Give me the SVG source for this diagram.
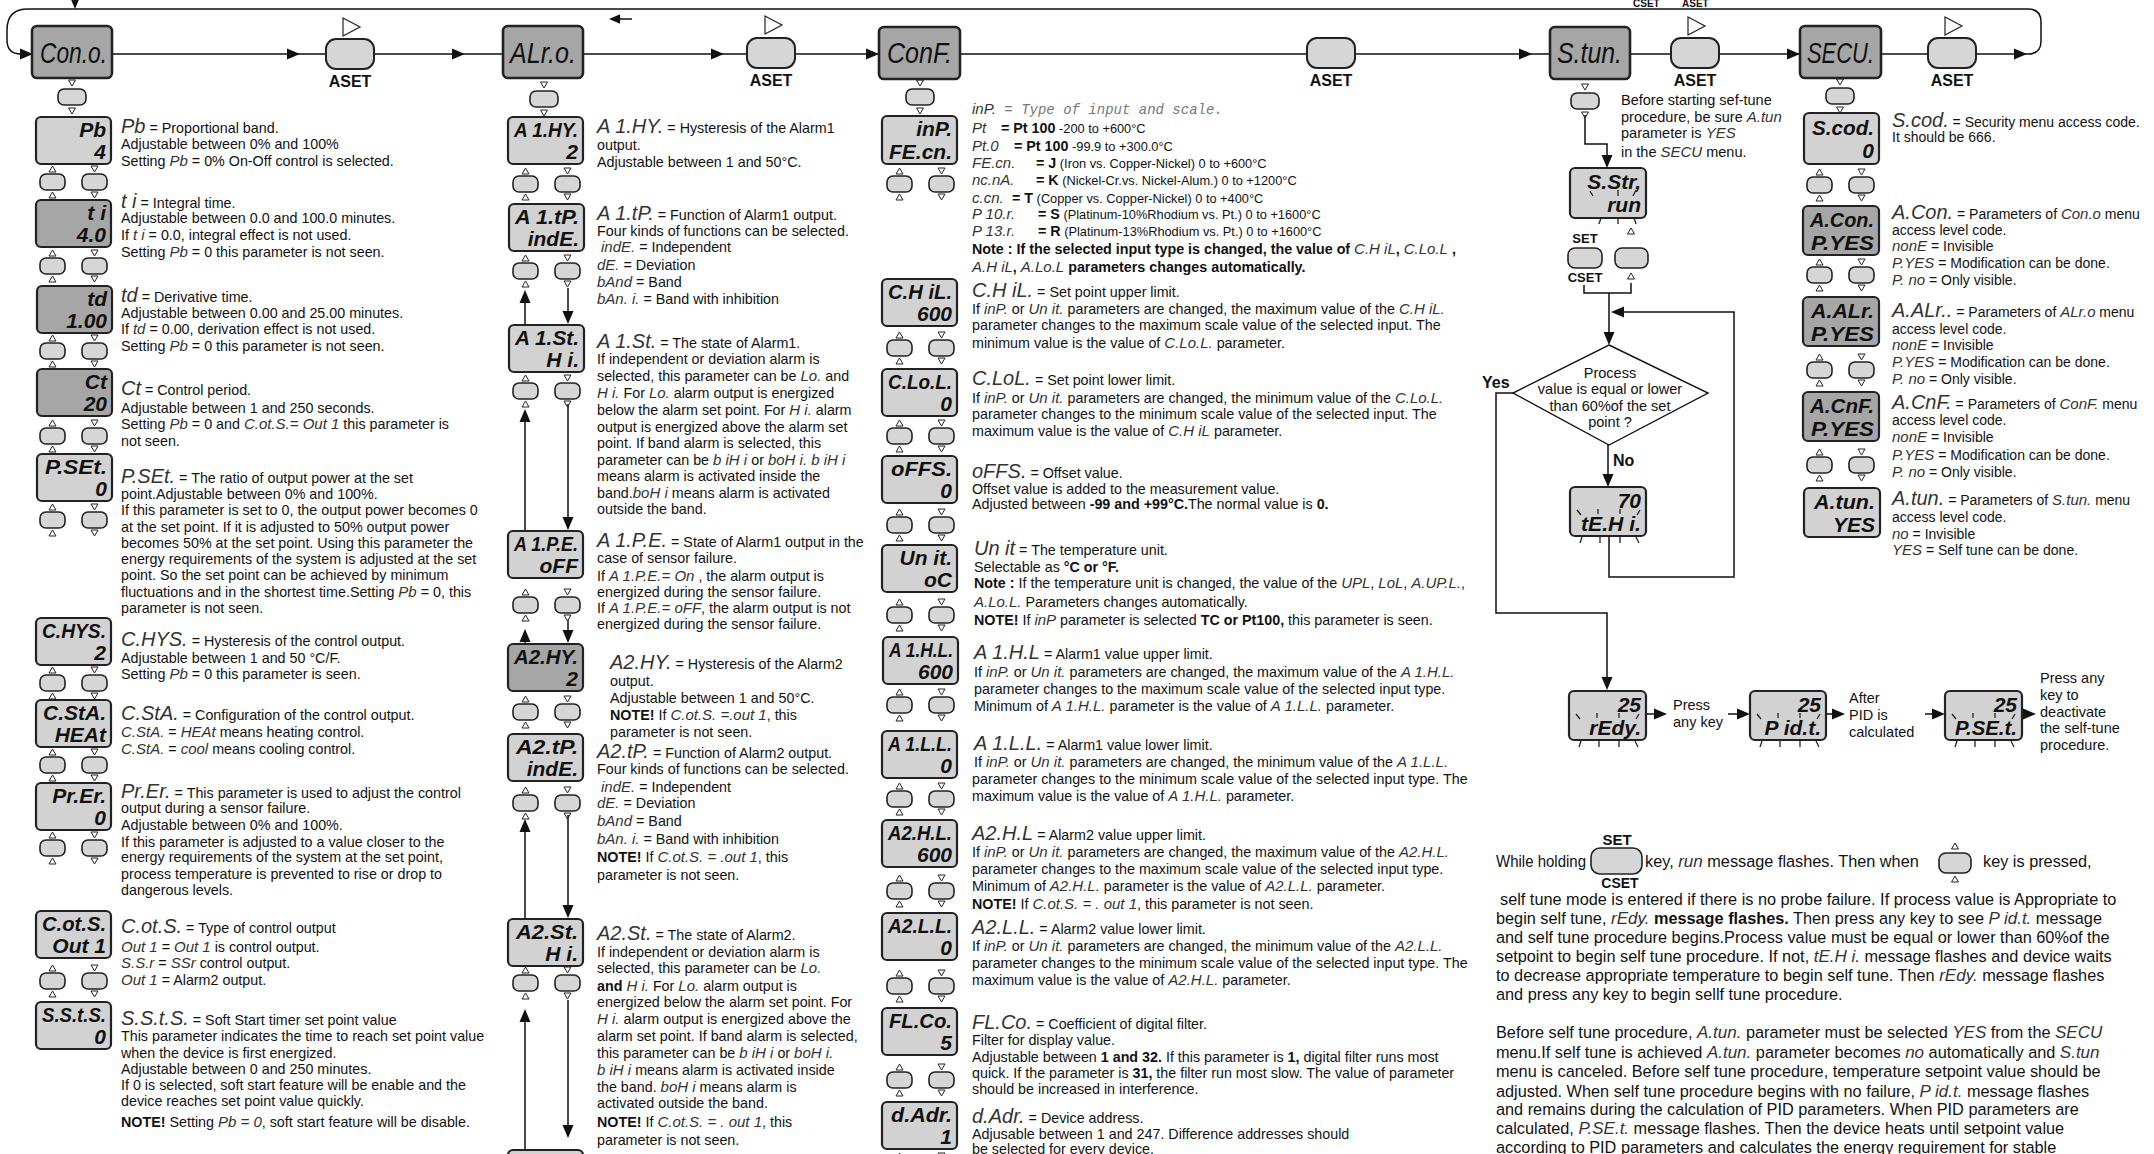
<svg xmlns="http://www.w3.org/2000/svg" width="2154" height="1154" viewBox="0 0 2154 1154">
<defs>
<style>
text{font-family:"Liberation Sans",Arial,sans-serif;fill:#111}
.t{font-size:14.3px}
.q{font-size:14.5px}
.r{font-size:14px}
.p{font-size:16.3px}
.b{font-weight:bold}
.c{font-size:12.8px}
.s{font-style:italic;fill:#333;font-size:15px;font-weight:normal}
.s2{font-style:italic;fill:#333;font-size:17px;font-weight:normal}
.L{font-style:italic;fill:#333;font-size:20px;font-weight:normal}
.d{font-style:italic;font-weight:bold;font-size:21px;text-anchor:end;fill:#111}
.m{font-style:italic;font-size:29px;fill:#111}
.aset{font-weight:bold;font-size:16px;text-anchor:middle}
.mono{font-family:"Liberation Mono",monospace;font-size:14px;fill:#777;font-style:italic}
.bl{fill:#d2d2d2;stroke:#222;stroke-width:2.2}
.bd{fill:#a6a6a6;stroke:#222;stroke-width:2.2}
.mb{fill:#a6a6a6;stroke:#222;stroke-width:2.6}
.k{fill:#d6d6d6;stroke:#222;stroke-width:1.6}
.ln{fill:none;stroke:#111;stroke-width:1.5}
.tr{fill:none;stroke:#222;stroke-width:1}
.ah{fill:#111}
.fl{stroke:#222;stroke-width:1.3}
.mid{text-anchor:middle}
</style>
<path id="ar" class="ah" d="M0,0 L-13,-5.5 L-13,5.5 Z"/>
<path id="tu" class="tr" d="M-3.5,3 L3.5,3 L0,-3 Z"/>
<path id="tdn" class="tr" d="M-3.5,-3 L3.5,-3 L0,3 Z"/>
<g id="bp">
<rect class="k" x="0" y="0" width="25" height="16" rx="6"/>
<use href="#tu" x="12.5" y="-5"/>
<use href="#tu" x="12.5" y="21"/>
<rect class="k" x="42" y="0" width="25" height="16" rx="6"/>
<use href="#tdn" x="54.5" y="-5"/>
<use href="#tdn" x="54.5" y="21"/>
</g>
<g id="sb">
<use href="#tdn" x="0" y="-6"/>
<rect class="k" x="-14" y="0" width="28" height="16" rx="6"/>
<use href="#tdn" x="0" y="22"/>
</g>
<g id="aset">
<rect class="k" x="-24" y="-15" width="48" height="30" rx="10" style="stroke-width:2"/>
<text class="aset" x="0" y="33">ASET</text>
</g>
<path id="play" class="tr" d="M-8,-9 L9,0 L-8,9 Z" style="stroke-width:1.2"/>
<g id="fl">
<line class="fl" x1="7" y1="23" x2="11" y2="28"/>
<line class="fl" x1="28" y1="22" x2="28" y2="27"/>
<line class="fl" x1="50" y1="22" x2="50" y2="27"/>
<line class="fl" x1="70" y1="23" x2="67" y2="28"/>
<line class="fl" x1="12" y1="50" x2="10" y2="56"/>
<line class="fl" x1="30" y1="50" x2="30" y2="56"/>
<line class="fl" x1="50" y1="50" x2="50" y2="56"/>
<line class="fl" x1="66" y1="50" x2="69" y2="56"/>
</g>
</defs>
<rect width="2154" height="1154" fill="#fff"/>

<!-- connectors -->
<g id="connectors">
<path class="ln" d="M112,54 H326 M374,54 H503 M583,54 H747 M795,54 H879 M960,54 H1307 M1355,54 H1550 M1630,54 H1671 M1719,54 H1800 M1881,54 H1928 M1976,54 H2028 Q2041,54 2041,41 V22 Q2041,9 2028,9 H28 Q7,9 7,30 V40 Q7,54 21,54 H32"/>
<use href="#ar" transform="translate(300,54)"/>
<use href="#ar" transform="translate(465,54)"/>
<use href="#ar" transform="translate(724,54)"/>
<use href="#ar" transform="translate(879,54)"/>
<use href="#ar" transform="translate(1532,54)"/>
<use href="#ar" transform="translate(1800,54)"/>
<use href="#ar" transform="translate(2027,54)"/>
<use href="#ar" transform="translate(33,54)"/>
<use href="#ar" transform="translate(75,9) rotate(90) scale(0.75)"/>
<path class="ln" d="M618,19 H632"/>
<use href="#ar" transform="translate(609,19) rotate(180) scale(0.85)"/>
<path class="ln" d="M525,325 V294 M568,288 V320 M525,531 V412 M568,404 V526 M525,644 V632 M568,620 V641 M525,919 V822 M568,815 V916 M525,1154 V1012 M568,1000 V1136"/>
<use href="#ar" transform="translate(525,290) rotate(-90)"/>
<use href="#ar" transform="translate(568,324) rotate(90)"/>
<use href="#ar" transform="translate(525,409) rotate(-90)"/>
<use href="#ar" transform="translate(568,530) rotate(90)"/>
<use href="#ar" transform="translate(525,629) rotate(-90)"/>
<use href="#ar" transform="translate(568,643) rotate(90)"/>
<use href="#ar" transform="translate(525,819) rotate(-90)"/>
<use href="#ar" transform="translate(568,918) rotate(90)"/>
<use href="#ar" transform="translate(525,1009) rotate(-90)"/>
<use href="#ar" transform="translate(568,1138) rotate(90)"/>
<path class="ln" d="M1585,115 V144 H1607 V157"/>
<use href="#ar" transform="translate(1607,168) rotate(90)"/>
<path class="ln" d="M1584,285 V293 H1631 V283 M1609,293 V334"/>
<use href="#ar" transform="translate(1609,345) rotate(90)"/>
<path class="ln" d="M1609,536 V577 H1734 V312 H1622"/>
<use href="#ar" transform="translate(1611,312) rotate(180)"/>
<path class="ln" d="M1513,393 H1496 V613 H1607 V679"/>
<use href="#ar" transform="translate(1607,690) rotate(90)"/>
<path class="ln" d="M1608,445 V476"/>
<use href="#ar" transform="translate(1608,487) rotate(90)"/>
<path class="ln" d="M1646,714 H1656 M1728,714 H1738 M1827,714 H1834 M1925,714 H1934 M2022,714 H2025"/>
<use href="#ar" transform="translate(1667,714)"/>
<use href="#ar" transform="translate(1750,714)"/>
<use href="#ar" transform="translate(1845,714)"/>
<use href="#ar" transform="translate(1945,714)"/>
<use href="#ar" transform="translate(2036,714)"/>
</g>

<text class="b" x="1633" y="7" style="font-size:10px">CSET</text>
<text class="b" x="1682" y="7" style="font-size:10px">ASET</text>

<!-- main menu nodes -->
<g id="n-cono"><rect class="mb" x="32" y="26" width="80" height="52" rx="5"/><text class="m" x="40" y="63" textLength="67" lengthAdjust="spacingAndGlyphs">Con.o.</text></g>
<g id="n-alro"><rect class="mb" x="503" y="26" width="80" height="52" rx="5"/><text class="m" x="510" y="63" textLength="66" lengthAdjust="spacingAndGlyphs">ALr.o.</text></g>
<g id="n-conf"><rect class="mb" x="879" y="27" width="81" height="52" rx="5"/><text class="m" x="887" y="63" textLength="65" lengthAdjust="spacingAndGlyphs">ConF.</text></g>
<g id="n-stun"><rect class="mb" x="1550" y="27" width="80" height="52" rx="5"/><text class="m" x="1557" y="63" textLength="65" lengthAdjust="spacingAndGlyphs">S.tun.</text></g>
<g id="n-secu"><rect class="mb" x="1800" y="26" width="81" height="52" rx="5"/><text class="m" x="1807" y="63" textLength="67" lengthAdjust="spacingAndGlyphs">SECU.</text></g>

<g id="n-aset1"><use href="#aset" x="350" y="54"/><use href="#play" x="351" y="27"/></g>
<g id="n-aset2"><use href="#aset" x="771" y="53"/><use href="#play" x="773" y="25"/></g>
<g id="n-aset3"><use href="#aset" x="1331" y="53"/></g>
<g id="n-aset4"><use href="#aset" x="1695" y="53"/><use href="#play" x="1696" y="26"/></g>
<g id="n-aset5"><use href="#aset" x="1952" y="53"/><use href="#play" x="1953" y="26"/></g>

<g id="keys">
<use href="#sb" x="72" y="89"/>
<use href="#sb" x="544" y="91"/>
<use href="#sb" x="920" y="89"/>
<use href="#sb" x="1585" y="93"/>
<use href="#sb" x="1840" y="88"/>
<use href="#bp" x="40" y="174"/><use href="#bp" x="40" y="258"/><use href="#bp" x="40" y="343"/><use href="#bp" x="40" y="428"/><use href="#bp" x="40" y="512"/><use href="#bp" x="40" y="675"/><use href="#bp" x="40" y="757"/><use href="#bp" x="40" y="840"/><use href="#bp" x="40" y="973"/>
<use href="#bp" x="513" y="176"/><use href="#bp" x="513" y="263"/><use href="#bp" x="513" y="383"/><use href="#bp" x="513" y="597"/><use href="#bp" x="513" y="704"/><use href="#bp" x="513" y="795"/><use href="#bp" x="513" y="975"/>
<use href="#bp" x="887" y="176"/><use href="#bp" x="887" y="340"/><use href="#bp" x="887" y="428"/><use href="#bp" x="887" y="517"/><use href="#bp" x="887" y="607"/><use href="#bp" x="887" y="697"/><use href="#bp" x="887" y="791"/><use href="#bp" x="887" y="883"/><use href="#bp" x="887" y="978"/><use href="#bp" x="887" y="1072"/><use href="#bp" x="887" y="1161"/>
<use href="#bp" x="1807" y="177"/><use href="#bp" x="1807" y="267"/><use href="#bp" x="1807" y="362"/><use href="#bp" x="1807" y="457"/>
</g>

<!-- Con.o. column displays -->
<g id="n-pb"><rect class="bl" x="36" y="117" width="75" height="47" rx="5"/><text class="d" x="106" y="137">Pb</text><text class="d" x="106" y="159">4</text></g>
<g id="n-ti"><rect class="bd" x="36" y="200" width="75" height="47" rx="5"/><text class="d" x="106" y="220">t i</text><text class="d" x="106" y="242">4.0</text></g>
<g id="n-td"><rect class="bd" x="37" y="286" width="75" height="47" rx="5"/><text class="d" x="107" y="306">td</text><text class="d" x="107" y="328">1.00</text></g>
<g id="n-ct"><rect class="bd" x="37" y="369" width="75" height="47" rx="5"/><text class="d" x="107" y="389">Ct</text><text class="d" x="107" y="411">20</text></g>
<g id="n-pset"><rect class="bl" x="37" y="454" width="75" height="47" rx="5"/><text class="d" x="107" y="474" textLength="62" lengthAdjust="spacingAndGlyphs">P.SEt.</text><text class="d" x="107" y="496">0</text></g>
<g id="n-chys"><rect class="bl" x="36" y="618" width="75" height="47" rx="5"/><text class="d" x="106" y="638" textLength="64" lengthAdjust="spacingAndGlyphs">C.HYS.</text><text class="d" x="106" y="660">2</text></g>
<g id="n-csta"><rect class="bl" x="36" y="700" width="75" height="47" rx="5"/><text class="d" x="106" y="720" textLength="63" lengthAdjust="spacingAndGlyphs">C.StA.</text><text class="d" x="106" y="742">HEAt</text></g>
<g id="n-prer"><rect class="bl" x="36" y="783" width="75" height="47" rx="5"/><text class="d" x="106" y="803">Pr.Er.</text><text class="d" x="106" y="825">0</text></g>
<g id="n-cots"><rect class="bl" x="36" y="911" width="75" height="47" rx="5"/><text class="d" x="106" y="931" textLength="64" lengthAdjust="spacingAndGlyphs">C.ot.S.</text><text class="d" x="106" y="953">Out 1</text></g>
<g id="n-ssts"><rect class="bl" x="36" y="1002" width="75" height="47" rx="5"/><text class="d" x="106" y="1022" textLength="64" lengthAdjust="spacingAndGlyphs">S.S.t.S.</text><text class="d" x="106" y="1044">0</text></g>

<!-- ALr.o. column displays -->
<g id="n-a1hy"><rect class="bl" x="508" y="117" width="75" height="47" rx="5"/><text class="d" x="578" y="137" textLength="64" lengthAdjust="spacingAndGlyphs">A 1.HY.</text><text class="d" x="578" y="159">2</text></g>
<g id="n-a1tp"><rect class="bl" x="509" y="204" width="75" height="47" rx="5"/><text class="d" x="579" y="224" textLength="64" lengthAdjust="spacingAndGlyphs">A 1.tP.</text><text class="d" x="579" y="246">indE.</text></g>
<g id="n-a1st"><rect class="bl" x="509" y="325" width="75" height="47" rx="5"/><text class="d" x="579" y="345" textLength="64" lengthAdjust="spacingAndGlyphs">A 1.St.</text><text class="d" x="579" y="367">H i.</text></g>
<g id="n-a1pe"><rect class="bl" x="508" y="531" width="75" height="47" rx="5"/><text class="d" x="578" y="551" textLength="64" lengthAdjust="spacingAndGlyphs">A 1.P.E.</text><text class="d" x="578" y="573">oFF</text></g>
<g id="n-a2hy"><rect class="bd" x="508" y="644" width="75" height="47" rx="5"/><text class="d" x="578" y="664" textLength="64" lengthAdjust="spacingAndGlyphs">A2.HY.</text><text class="d" x="578" y="686">2</text></g>
<g id="n-a2tp"><rect class="bl" x="508" y="734" width="75" height="47" rx="5"/><text class="d" x="578" y="754" textLength="62" lengthAdjust="spacingAndGlyphs">A2.tP.</text><text class="d" x="578" y="776">indE.</text></g>
<g id="n-a2st"><rect class="bl" x="508" y="919" width="75" height="47" rx="5"/><text class="d" x="578" y="939" textLength="62" lengthAdjust="spacingAndGlyphs">A2.St.</text><text class="d" x="578" y="961">H i.</text></g>
<g id="n-a2next"><rect class="bl" x="508" y="1150" width="75" height="47" rx="5"/></g>

<!-- ConF. column displays -->
<g id="n-inp"><rect class="bl" x="882" y="116" width="75" height="48" rx="5"/><text class="d" x="952" y="136">inP.</text><text class="d" x="952" y="159" textLength="63" lengthAdjust="spacingAndGlyphs">FE.cn.</text></g>
<g id="n-chil"><rect class="bl" x="882" y="279" width="75" height="47" rx="5"/><text class="d" x="952" y="299" textLength="64" lengthAdjust="spacingAndGlyphs">C.H iL.</text><text class="d" x="952" y="321">600</text></g>
<g id="n-clol"><rect class="bl" x="882" y="369" width="75" height="47" rx="5"/><text class="d" x="952" y="389" textLength="64" lengthAdjust="spacingAndGlyphs">C.Lo.L.</text><text class="d" x="952" y="411">0</text></g>
<g id="n-offs"><rect class="bl" x="882" y="456" width="75" height="47" rx="5"/><text class="d" x="952" y="476" textLength="61" lengthAdjust="spacingAndGlyphs">oFFS.</text><text class="d" x="952" y="498">0</text></g>
<g id="n-unit"><rect class="bl" x="882" y="545" width="75" height="47" rx="5"/><text class="d" x="952" y="565">Un it.</text><text class="d" x="952" y="587">oC</text></g>
<g id="n-a1hl"><rect class="bl" x="883" y="637" width="75" height="47" rx="5"/><text class="d" x="953" y="657" textLength="64" lengthAdjust="spacingAndGlyphs">A 1.H.L.</text><text class="d" x="953" y="679">600</text></g>
<g id="n-a1ll"><rect class="bl" x="882" y="731" width="75" height="47" rx="5"/><text class="d" x="952" y="751" textLength="64" lengthAdjust="spacingAndGlyphs">A 1.L.L.</text><text class="d" x="952" y="773">0</text></g>
<g id="n-a2hl"><rect class="bl" x="882" y="820" width="75" height="47" rx="5"/><text class="d" x="952" y="840" textLength="64" lengthAdjust="spacingAndGlyphs">A2.H.L.</text><text class="d" x="952" y="862">600</text></g>
<g id="n-a2ll"><rect class="bl" x="882" y="913" width="75" height="47" rx="5"/><text class="d" x="952" y="933" textLength="64" lengthAdjust="spacingAndGlyphs">A2.L.L.</text><text class="d" x="952" y="955">0</text></g>
<g id="n-flco"><rect class="bl" x="882" y="1008" width="75" height="47" rx="5"/><text class="d" x="952" y="1028" textLength="63" lengthAdjust="spacingAndGlyphs">FL.Co.</text><text class="d" x="952" y="1050">5</text></g>
<g id="n-dadr"><rect class="bl" x="882" y="1102" width="75" height="47" rx="5"/><text class="d" x="952" y="1122" textLength="61" lengthAdjust="spacingAndGlyphs">d.Adr.</text><text class="d" x="952" y="1144">1</text></g>

<!-- SECU column displays -->
<g id="n-scod"><rect class="bl" x="1804" y="113" width="75" height="51" rx="5"/><text class="d" x="1874" y="135" textLength="62" lengthAdjust="spacingAndGlyphs">S.cod.</text><text class="d" x="1874" y="158">0</text></g>
<g id="n-acon"><rect class="bd" x="1803" y="206" width="76" height="49" rx="5"/><text class="d" x="1874" y="227" textLength="64" lengthAdjust="spacingAndGlyphs">A.Con.</text><text class="d" x="1874" y="250" textLength="63" lengthAdjust="spacingAndGlyphs">P.YES</text></g>
<g id="n-aalr"><rect class="bd" x="1803" y="297" width="76" height="49" rx="5"/><text class="d" x="1874" y="318" textLength="63" lengthAdjust="spacingAndGlyphs">A.ALr.</text><text class="d" x="1874" y="341" textLength="63" lengthAdjust="spacingAndGlyphs">P.YES</text></g>
<g id="n-acnf"><rect class="bd" x="1803" y="392" width="76" height="49" rx="5"/><text class="d" x="1874" y="413" textLength="64" lengthAdjust="spacingAndGlyphs">A.CnF.</text><text class="d" x="1874" y="436" textLength="63" lengthAdjust="spacingAndGlyphs">P.YES</text></g>
<g id="n-atun"><rect class="bl" x="1804" y="488" width="76" height="49" rx="5"/><text class="d" x="1875" y="509" textLength="61" lengthAdjust="spacingAndGlyphs">A.tun.</text><text class="d" x="1875" y="532">YES</text></g>

<!-- self tune flow nodes -->
<g id="n-sstr"><rect class="bl" x="1570" y="168" width="76" height="50" rx="5"/><text class="d" x="1641" y="189">S.Str,</text><text class="d" x="1641" y="212">run</text>
<line class="fl" x1="1590" y1="191" x2="1593" y2="196"/><line class="fl" x1="1618" y1="190" x2="1618" y2="196"/><line class="fl" x1="1636" y1="190" x2="1633" y2="196"/>
<line class="fl" x1="1601" y1="218" x2="1599" y2="224"/><line class="fl" x1="1618" y1="218" x2="1618" y2="224"/><line class="fl" x1="1634" y1="218" x2="1636" y2="224"/></g>
<g id="n-setkey"><text class="b mid" x="1585" y="243" style="font-size:13px">SET</text><rect class="k" x="1568" y="248" width="34" height="20" rx="7"/><text class="b mid" x="1585" y="282" style="font-size:13px">CSET</text></g>
<g id="n-upkey"><use href="#tu" x="1631" y="231"/><rect class="k" x="1615" y="248" width="33" height="20" rx="7"/><use href="#tu" x="1631" y="276"/></g>
<g id="n-decision"><path d="M1609,345 L1708,393 L1609,445 L1513,393 Z" fill="#fff" stroke="#111" stroke-width="1.4"/>
<text class="q mid" x="1610" y="378">Process</text><text class="q mid" x="1610" y="394">value is equal or lower</text><text class="q mid" x="1610" y="411">than 60%of the set</text><text class="q mid" x="1610" y="427">point ?</text></g>
<text class="b" x="1482" y="388" style="font-size:16px">Yes</text>
<text class="b" x="1613" y="466" style="font-size:16px">No</text>
<g id="n-tehi"><rect class="bl" x="1570" y="487" width="76" height="49" rx="5"/><text class="d" x="1641" y="508">70</text><text class="d" x="1641" y="531" textLength="60" lengthAdjust="spacingAndGlyphs">tE.H i.</text><use href="#fl" x="1570" y="487"/></g>
<g id="n-redy"><rect class="bl" x="1569" y="691" width="77" height="49" rx="5"/><text class="d" x="1641" y="712">25</text><text class="d" x="1641" y="735">rEdy.</text><use href="#fl" x="1569" y="691"/></g>
<g id="n-pidt"><rect class="bl" x="1750" y="691" width="76" height="49" rx="5"/><text class="d" x="1821" y="712">25</text><text class="d" x="1821" y="735">P id.t.</text><use href="#fl" x="1750" y="691"/></g>
<g id="n-pset2"><rect class="bl" x="1945" y="691" width="77" height="49" rx="5"/><text class="d" x="2017" y="712">25</text><text class="d" x="2017" y="735" textLength="62" lengthAdjust="spacingAndGlyphs">P.SE.t.</text><use href="#fl" x="1945" y="691"/></g>
<g class="q">
<text x="1673" y="710">Press</text><text x="1673" y="727">any key</text>
<text x="1849" y="703">After</text><text x="1849" y="720">PID is</text><text x="1849" y="737">calculated</text>
<text x="2040" y="683">Press any</text><text x="2040" y="700">key to</text><text x="2040" y="717">deactivate</text><text x="2040" y="733">the self-tune</text><text x="2040" y="750">procedure.</text>
</g>
<g class="q">
<text x="1621" y="105">Before starting sef-tune</text>
<text x="1621" y="122">procedure, be sure <tspan class="s">A.tun</tspan></text>
<text x="1621" y="138">parameter is <tspan class="s">YES</tspan></text>
<text x="1621" y="157">in the <tspan class="s">SECU</tspan> menu.</text>
</g>

<!-- Con.o. text -->
<g id="txt-cono" class="t">
<text x="121" y="133"><tspan class="L">Pb</tspan> = Proportional band.</text>
<text x="121" y="149">Adjustable between 0% and 100%</text>
<text x="121" y="166">Setting <tspan class="s">Pb</tspan>  = 0% On-Off control is  selected.</text>
<text x="121" y="208"><tspan class="L">t i</tspan> = Integral time.</text>
<text x="121" y="223">Adjustable between 0.0 and 100.0 minutes.</text>
<text x="121" y="240">If <tspan class="s">t i</tspan> = 0.0, integral effect is not used.</text>
<text x="121" y="257">Setting <tspan class="s">Pb</tspan> = 0  this parameter is not seen.</text>
<text x="121" y="302"><tspan class="L">td</tspan> = Derivative time.</text>
<text x="121" y="318">Adjustable  between 0.00 and  25.00 minutes.</text>
<text x="121" y="334">If <tspan class="s">td</tspan>  = 0.00, derivation effect is not used.</text>
<text x="121" y="351">Setting <tspan class="s">Pb</tspan> = 0 this parameter is not seen.</text>
<text x="121" y="395"><tspan class="L">Ct</tspan> = Control period.</text>
<text x="121" y="413">Adjustable  between 1 and 250 seconds.</text>
<text x="121" y="429">Setting <tspan class="s">Pb</tspan> = 0 and <tspan class="s">C.ot.S.= Out 1</tspan>  this parameter is</text>
<text x="121" y="446">not seen.</text>
<text x="121" y="483"><tspan class="L">P.SEt.</tspan> = The ratio of output power at the set</text>
<text x="121" y="499">point.Adjustable between 0% and 100%.</text>
<text x="121" y="515">If this parameter  is set to 0, the output power becomes 0</text>
<text x="121" y="532">at the set point. If it is adjusted to  50% output  power</text>
<text x="121" y="548">becomes 50% at the set point. Using this parameter the</text>
<text x="121" y="564">energy requirements of the system is adjusted at the set</text>
<text x="121" y="580">point. So the set point  can be achieved  by minimum</text>
<text x="121" y="597">fluctuations and in the shortest time.Setting <tspan class="s">Pb</tspan> = 0, this</text>
<text x="121" y="613">parameter is not seen.</text>
<text x="121" y="646"><tspan class="L">C.HYS.</tspan> = Hysteresis of the control output.</text>
<text x="121" y="663">Adjustable between 1 and  50 °C/F.</text>
<text x="121" y="679">Setting <tspan class="s">Pb</tspan> = 0 this parameter is seen.</text>
<text x="121" y="720"><tspan class="L">C.StA.</tspan> = Configuration of the control output.</text>
<text x="121" y="737"><tspan class="s">C.StA.</tspan>  = <tspan class="s">HEAt</tspan> means heating control.</text>
<text x="121" y="754"><tspan class="s">C.StA.</tspan>  = <tspan class="s">cool</tspan>  means cooling control.</text>
<text x="121" y="798"><tspan class="L">Pr.Er.</tspan> = This parameter is used to adjust the control</text>
<text x="121" y="813">output during a sensor failure.</text>
<text x="121" y="830">Adjustable between 0% and 100%.</text>
<text x="121" y="847">If this parameter is adjusted to a value closer to the</text>
<text x="121" y="862">energy requirements of the system at the set point,</text>
<text x="121" y="879">process temperature is prevented to rise or drop to</text>
<text x="121" y="895">dangerous levels.</text>
<text x="121" y="933"><tspan class="L">C.ot.S.</tspan> = Type of control output</text>
<text x="121" y="952"><tspan class="s">Out 1</tspan>  = <tspan class="s">Out 1</tspan> is control output.</text>
<text x="121" y="968"><tspan class="s">S.S.r</tspan>  = <tspan class="s">SSr</tspan>  control output.</text>
<text x="121" y="985"><tspan class="s">Out 1</tspan> = Alarm2 output.</text>
<text x="121" y="1025"><tspan class="L">S.S.t.S.</tspan> = Soft Start timer set point value</text>
<text x="121" y="1041">This parameter indicates the time to reach set point value</text>
<text x="121" y="1058">when the device is first energized.</text>
<text x="121" y="1074">Adjustable between 0 and 250 minutes.</text>
<text x="121" y="1090">If 0 is selected, soft start feature will be enable and the</text>
<text x="121" y="1106">device reaches set point value quickly.</text>
<text x="121" y="1127"><tspan class="b">NOTE!</tspan> Setting <tspan class="s">Pb = 0</tspan>, soft start feature will be disable.</text>
</g>

<!-- ALr.o. text -->
<g id="txt-alro" class="t">
<text x="597" y="133"><tspan class="L">A 1.HY.</tspan> = Hysteresis of the Alarm1</text>
<text x="597" y="150">output.</text>
<text x="597" y="167">Adjustable between 1 and 50°C.</text>
<text x="597" y="220"><tspan class="L">A 1.tP.</tspan> =  Function of Alarm1 output.</text>
<text x="597" y="236">Four kinds of functions can be selected.</text>
<text x="601" y="252"><tspan class="s">indE.</tspan> = Independent</text>
<text x="597" y="270"><tspan class="s">dE.</tspan> = Deviation</text>
<text x="597" y="287"><tspan class="s">bAnd</tspan> = Band</text>
<text x="597" y="304"><tspan class="s">bAn. i.</tspan> = Band with inhibition</text>
<text x="597" y="348"><tspan class="L">A 1.St.</tspan> =  The  state of Alarm1.</text>
<text x="597" y="364">If independent or deviation alarm is</text>
<text x="597" y="381">selected, this parameter can be  <tspan class="s">Lo.</tspan>  and</text>
<text x="597" y="398"><tspan class="s">H i.</tspan> For <tspan class="s">Lo.</tspan> alarm output is energized</text>
<text x="597" y="415">below the alarm set point. For <tspan class="s">H i.</tspan> alarm</text>
<text x="597" y="432">output is energized above the alarm set</text>
<text x="597" y="448">point. If band alarm is selected, this</text>
<text x="597" y="465">parameter can be <tspan class="s">b iH i</tspan> or <tspan class="s">boH i.  b iH i</tspan></text>
<text x="597" y="481">means alarm is activated inside the</text>
<text x="597" y="498">band.<tspan class="s">boH i</tspan>  means alarm is activated</text>
<text x="597" y="514">outside the band.</text>
<text x="597" y="547"><tspan class="L">A 1.P.E.</tspan> = State of Alarm1 output in the</text>
<text x="597" y="563">case of sensor failure.</text>
<text x="597" y="581">If <tspan class="s">A 1.P.E.= On</tspan> , the alarm output is</text>
<text x="597" y="597">energized  during the sensor failure.</text>
<text x="597" y="613">If <tspan class="s">A 1.P.E.= oFF</tspan>, the alarm output is not</text>
<text x="597" y="629">energized  during the sensor failure.</text>
<text x="610" y="669"><tspan class="L">A2.HY.</tspan> = Hysteresis of the Alarm2</text>
<text x="610" y="686">output.</text>
<text x="610" y="703">Adjustable between 1 and 50°C.</text>
<text x="610" y="720"><tspan class="b">NOTE!</tspan> If <tspan class="s">C.ot.S. =.out 1</tspan>, this</text>
<text x="610" y="737">parameter is not seen.</text>
<text x="597" y="758"><tspan class="L">A2.tP.</tspan> =  Function of Alarm2 output.</text>
<text x="597" y="774">Four kinds of functions can be selected.</text>
<text x="601" y="792"><tspan class="s">indE.</tspan> = Independent</text>
<text x="597" y="808"><tspan class="s">dE.</tspan> = Deviation</text>
<text x="597" y="826"><tspan class="s">bAnd</tspan> = Band</text>
<text x="597" y="844"><tspan class="s">bAn. i.</tspan> = Band with inhibition</text>
<text x="597" y="862"><tspan class="b">NOTE!</tspan> If <tspan class="s">C.ot.S. = .out 1</tspan>, this</text>
<text x="597" y="880">parameter is not seen.</text>
<text x="597" y="940"><tspan class="L">A2.St.</tspan> =  The  state of Alarm2.</text>
<text x="597" y="957">If independent or deviation alarm is</text>
<text x="597" y="973">selected, this parameter can be  <tspan class="s">Lo.</tspan></text>
<text x="597" y="991"><tspan class="b">and</tspan> <tspan class="s">H i.</tspan> For <tspan class="s">Lo.</tspan> alarm output is</text>
<text x="597" y="1007">energized below the alarm set point. For</text>
<text x="597" y="1024"><tspan class="s">H i.</tspan>  alarm output is energized above the</text>
<text x="597" y="1041">alarm set point. If band alarm is selected,</text>
<text x="597" y="1058">this parameter can be <tspan class="s">b iH i</tspan> or <tspan class="s">boH i.</tspan></text>
<text x="597" y="1075"><tspan class="s">b iH i</tspan> means alarm is activated inside</text>
<text x="597" y="1092">the band. <tspan class="s">boH i</tspan> means alarm is</text>
<text x="597" y="1108">activated outside the band.</text>
<text x="597" y="1127"><tspan class="b">NOTE!</tspan> If <tspan class="s">C.ot.S. =  . out 1</tspan>, this</text>
<text x="597" y="1145">parameter is not seen.</text>
</g>

<!-- ConF. text -->
<g id="txt-conf" class="t">
<text x="972" y="114"><tspan class="s">inP.</tspan><tspan class="mono"> = Type of input and scale.</tspan></text>
<text y="133"><tspan x="972" class="s">Pt</tspan><tspan x="1001" class="b">= Pt 100</tspan><tspan class="c"> -200 to +600°C</tspan></text>
<text y="151"><tspan x="972" class="s">Pt.0</tspan><tspan x="1014" class="b">= Pt 100</tspan><tspan class="c"> -99.9 to +300.0°C</tspan></text>
<text y="168"><tspan x="972" class="s">FE.cn.</tspan><tspan x="1036" class="b">= J</tspan><tspan class="c"> (Iron vs. Copper-Nickel) 0 to +600°C</tspan></text>
<text y="185"><tspan x="972" class="s">nc.nA.</tspan><tspan x="1036" class="b">= K</tspan><tspan class="c"> (Nickel-Cr.vs. Nickel-Alum.) 0 to +1200°C</tspan></text>
<text y="203"><tspan x="972" class="s">c.cn.</tspan><tspan x="1012" class="b">= T</tspan><tspan class="c"> (Copper vs. Copper-Nickel) 0 to +400°C</tspan></text>
<text y="219"><tspan x="972" class="s">P 10.r.</tspan><tspan x="1038" class="b">= S</tspan><tspan class="c"> (Platinum-10%Rhodium vs. Pt.) 0 to +1600°C</tspan></text>
<text y="236"><tspan x="972" class="s">P 13.r.</tspan><tspan x="1038" class="b">= R</tspan><tspan class="c"> (Platinum-13%Rhodium vs. Pt.) 0 to +1600°C</tspan></text>
<text x="972" y="254" class="b">Note : If the selected input type is changed, the value of <tspan class="s">C.H iL</tspan>, <tspan class="s">C.Lo.L</tspan> ,</text>
<text x="972" y="272" class="b"><tspan class="s">A.H iL</tspan>, <tspan class="s">A.Lo.L</tspan>  parameters changes automatically.</text>
<text x="972" y="297"><tspan class="L">C.H iL.</tspan> = Set point upper limit.</text>
<text x="972" y="314">If  <tspan class="s">inP.</tspan> or <tspan class="s">Un it.</tspan> parameters are changed, the maximum value of the <tspan class="s">C.H iL.</tspan></text>
<text x="972" y="330">parameter changes to the maximum scale value of the selected input. The</text>
<text x="972" y="348">minimum value is the value of  <tspan class="s">C.Lo.L.</tspan> parameter.</text>
<text x="972" y="385"><tspan class="L">C.LoL.</tspan> = Set point lower limit.</text>
<text x="972" y="403">If   <tspan class="s">inP.</tspan> or  <tspan class="s">Un it.</tspan> parameters are changed, the minimum value of the <tspan class="s">C.Lo.L.</tspan></text>
<text x="972" y="419">parameter changes to the minimum scale value of the selected input. The</text>
<text x="972" y="436">maximum value is the value of <tspan class="s">C.H iL</tspan> parameter.</text>
<text x="972" y="478"><tspan class="L">oFFS.</tspan> = Offset value.</text>
<text x="972" y="494">Offset value is added to the measurement value.</text>
<text x="972" y="509">Adjusted between <tspan class="b">-99 and +99°C.</tspan>The normal value is <tspan class="b">0.</tspan></text>
<text x="974" y="555"><tspan class="L">Un it</tspan> = The temperature unit.</text>
<text x="974" y="572">Selectable as <tspan class="b">°C  or °F.</tspan></text>
<text x="974" y="588"><tspan class="b">Note :</tspan> If the temperature unit is changed, the value of the <tspan class="s">UPL</tspan>, <tspan class="s">LoL</tspan>, <tspan class="s">A.UP.L.</tspan>,</text>
<text x="974" y="607"><tspan class="s">A.Lo.L.</tspan> Parameters changes automatically.</text>
<text x="974" y="625"><tspan class="b">NOTE!</tspan> If <tspan class="s">inP</tspan> parameter is selected <tspan class="b">TC or Pt100,</tspan> this parameter is seen.</text>
<text x="974" y="659"><tspan class="L">A 1.H.L</tspan> = Alarm1 value upper limit.</text>
<text x="974" y="677">If  <tspan class="s">inP.</tspan> or <tspan class="s">Un it.</tspan> parameters are changed, the maximum value of the <tspan class="s">A 1.H.L.</tspan></text>
<text x="974" y="694">parameter changes to the maximum scale value of the selected input  type.</text>
<text x="974" y="711">Minimum of <tspan class="s">A 1.H.L.</tspan> parameter is the value of <tspan class="s">A 1.L.L.</tspan> parameter.</text>
<text x="974" y="750"><tspan class="L">A 1.L.L.</tspan> = Alarm1 value lower limit.</text>
<text x="974" y="767">If  <tspan class="s">inP.</tspan> or <tspan class="s">Un it.</tspan> parameters are changed, the minimum value of the <tspan class="s">A 1.L.L.</tspan></text>
<text x="972" y="784">parameter changes to the minimum scale value of the selected input type. The</text>
<text x="972" y="801">maximum value is the value of <tspan class="s">A 1.H.L.</tspan> parameter.</text>
<text x="972" y="840"><tspan class="L">A2.H.L</tspan> = Alarm2 value upper limit.</text>
<text x="972" y="857">If  <tspan class="s">inP.</tspan> or <tspan class="s">Un it.</tspan> parameters are changed, the maximum value of the <tspan class="s">A2.H.L.</tspan></text>
<text x="972" y="874">parameter changes to the maximum scale value of the selected input  type.</text>
<text x="972" y="891">Minimum of <tspan class="s">A2.H.L.</tspan> parameter is the value of <tspan class="s">A2.L.L.</tspan> parameter.</text>
<text x="972" y="909"><tspan class="b">NOTE!</tspan> If <tspan class="s">C.ot.S. =  . out 1</tspan>, this parameter is not seen.</text>
<text x="972" y="934"><tspan class="L">A2.L.L.</tspan> = Alarm2 value lower limit.</text>
<text x="972" y="951">If  <tspan class="s">inP.</tspan> or <tspan class="s">Un it.</tspan> parameters are changed, the minimum value of the <tspan class="s">A2.L.L.</tspan></text>
<text x="972" y="968">parameter changes to the minimum scale value of the selected input type. The</text>
<text x="972" y="985">maximum value is the value of <tspan class="s">A2.H.L.</tspan> parameter.</text>
<text x="972" y="1029"><tspan class="L">FL.Co.</tspan> = Coefficient of digital filter.</text>
<text x="972" y="1045">Filter for display value.</text>
<text x="972" y="1062">Adjustable between <tspan class="b">1 and 32.</tspan> If this parameter is <tspan class="b">1,</tspan> digital filter runs most</text>
<text x="972" y="1078">quick. If the parameter is <tspan class="b">31,</tspan> the filter run most slow. The value of parameter</text>
<text x="972" y="1094">should be increased in interference.</text>
<text x="972" y="1123"><tspan class="L">d.Adr.</tspan> = Device address.</text>
<text x="972" y="1139">Adjusable between 1 and 247. Difference addresses should</text>
<text x="972" y="1154">be selected for every device.</text>
</g>

<!-- SECU text -->
<g id="txt-secu" class="r">
<text x="1892" y="127"><tspan class="L">S.cod.</tspan> =  Security menu access code.</text>
<text x="1892" y="142">It should be 666.</text>
<text x="1892" y="219"><tspan class="L">A.Con.</tspan> = Parameters of <tspan class="s">Con.o</tspan> menu</text>
<text x="1892" y="235">access level code.</text>
<text x="1892" y="251"><tspan class="s">nonE</tspan> = Invisible</text>
<text x="1892" y="268"><tspan class="s">P.YES</tspan> = Modification can be done.</text>
<text x="1892" y="285"><tspan class="s">P.  no</tspan>  = Only visible.</text>
<text x="1892" y="317"><tspan class="L">A.ALr..</tspan> =  Parameters of <tspan class="s">ALr.o</tspan> menu</text>
<text x="1892" y="334">access level code.</text>
<text x="1892" y="350"><tspan class="s">nonE</tspan> = Invisible</text>
<text x="1892" y="367"><tspan class="s">P.YES</tspan> = Modification can be done.</text>
<text x="1892" y="384"><tspan class="s">P.  no</tspan>  = Only visible.</text>
<text x="1892" y="409"><tspan class="L">A.CnF.</tspan> = Parameters of <tspan class="s">ConF.</tspan> menu</text>
<text x="1892" y="425">access level code.</text>
<text x="1892" y="442"><tspan class="s">nonE</tspan> = Invisible</text>
<text x="1892" y="460"><tspan class="s">P.YES</tspan> = Modification can be done.</text>
<text x="1892" y="477"><tspan class="s">P.  no</tspan>  = Only visible.</text>
<text x="1892" y="505"><tspan class="L">A.tun.</tspan> = Parameters of <tspan class="s">S.tun.</tspan> menu</text>
<text x="1892" y="522">access level code.</text>
<text x="1892" y="539"><tspan class="s">no</tspan>  = Invisible</text>
<text x="1892" y="555"><tspan class="s">YES</tspan> = Self tune can be done.</text>
</g>

<!-- self tune description -->
<g id="txt-tune" class="p">
<text class="b mid" x="1617" y="845" style="font-size:15px">SET</text>
<rect class="k" x="1591" y="848" width="51" height="26" rx="9"/>
<text class="b mid" x="1620" y="888" style="font-size:14px">CSET</text>
<text x="1496" y="867" textLength="90" lengthAdjust="spacingAndGlyphs">While holding</text>
<text x="1645" y="867">key, <tspan class="s2">run</tspan> message flashes. Then when</text>
<use href="#tu" x="1955" y="846"/>
<rect class="k" x="1939" y="853" width="32" height="20" rx="7"/>
<use href="#tu" x="1955" y="879"/>
<text x="1983" y="867">key is pressed,</text>
<text x="1500" y="905">self tune mode is entered if there is no probe failure. If process value is Appropriate to</text>
<text x="1496" y="924">begin self tune,  <tspan class="s2">rEdy.</tspan> <tspan class="b">message flashes.</tspan> Then press any key to see <tspan class="s2">P id.t.</tspan>  message</text>
<text x="1496" y="943">and self tune procedure begins.Process value must be equal or lower than 60%of the</text>
<text x="1496" y="962">setpoint to begin self tune procedure. If not, <tspan class="s2">tE.H i.</tspan>  message flashes and device waits</text>
<text x="1496" y="981">to decrease appropriate temperature to begin self tune. Then <tspan class="s2">rEdy.</tspan> message flashes</text>
<text x="1496" y="1000">and press any key to begin sellf tune procedure.</text>
<text x="1496" y="1038">Before self tune procedure, <tspan class="s2">A.tun.</tspan> parameter must be selected <tspan class="s2">YES</tspan> from the <tspan class="s2">SECU</tspan></text>
<text x="1496" y="1058">menu.If self tune is achieved <tspan class="s2">A.tun.</tspan> parameter becomes <tspan class="s2">no</tspan> automatically and <tspan class="s2">S.tun</tspan></text>
<text x="1496" y="1077">menu is canceled. Before self tune procedure, temperature setpoint value should be</text>
<text x="1496" y="1097">adjusted. When self tune procedure begins with no failure,  <tspan class="s2">P id.t.</tspan>  message flashes</text>
<text x="1496" y="1115">and remains during the calculation of PID parameters. When PID parameters are</text>
<text x="1496" y="1134">calculated, <tspan class="s2">P.SE.t.</tspan> message flashes. Then the device heats until setpoint value</text>
<text x="1496" y="1153">according to PID parameters and calculates the energy requirement for stable</text>
</g>
</svg>
